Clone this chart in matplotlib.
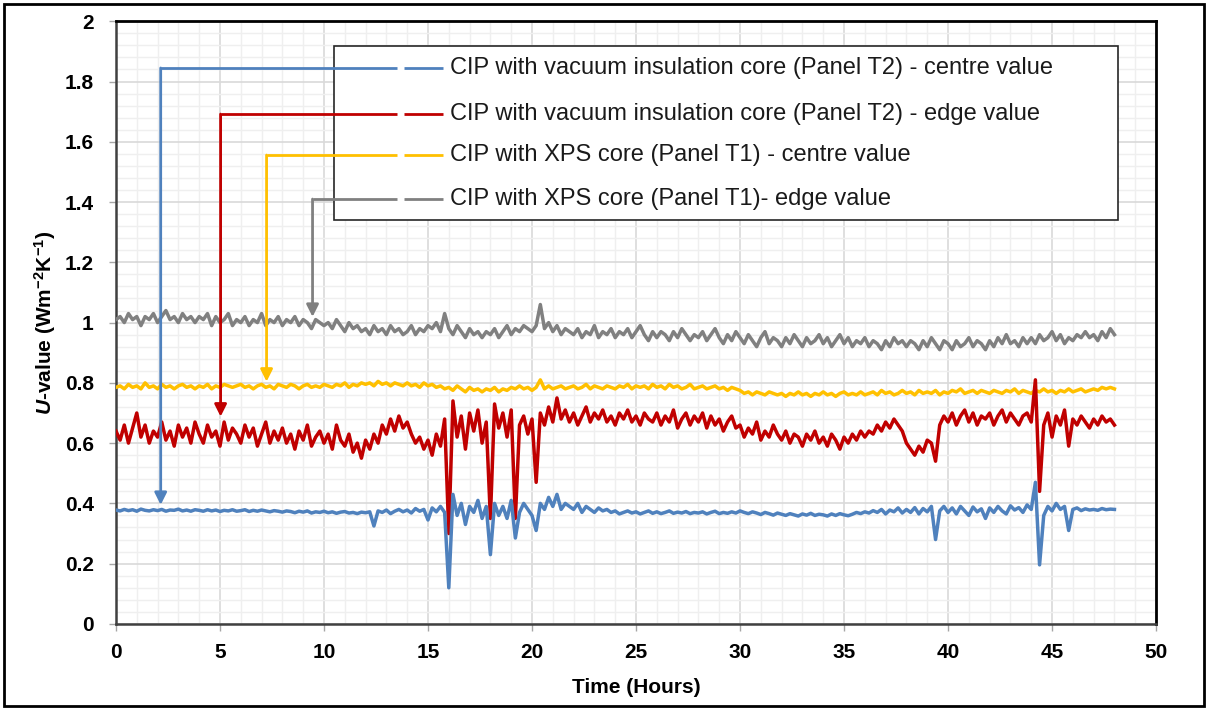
import matplotlib.pyplot as plt
import numpy as np
from matplotlib.patches import Rectangle
from matplotlib.ticker import MultipleLocator

plt.rcParams['font.family'] = ['Liberation Sans', 'DejaVu Sans']
plt.rcParams['mathtext.fontset'] = 'custom'
plt.rcParams['mathtext.rm'] = 'Liberation Sans:bold'
plt.rcParams['mathtext.it'] = 'Liberation Sans:italic:bold'
plt.rcParams['mathtext.bf'] = 'Liberation Sans:bold'

# time axis, one reading every 0.2 h
hours = np.arange(0, 48.01, 0.2)

xps_edge = [
    1.01, 1.02, 1.00, 1.03, 1.01, 1.02, 0.99, 1.02, 1.01, 1.03,
    1.00, 1.02, 1.04, 1.01, 1.02, 1.00, 1.03, 1.01, 1.02, 1.00,
    1.02, 1.01, 1.03, 0.99, 1.02, 1.00, 1.01, 1.03, 0.99, 1.01,
    1.00, 1.02, 0.99, 1.01, 1.00, 1.03, 0.99, 1.01, 1.00, 1.02,
    0.99, 1.01, 1.00, 1.02, 0.99, 1.01, 1.00, 0.98, 1.01, 1.00,
    0.99, 1.00, 0.98, 1.01, 0.99, 0.97, 1.00, 0.98, 0.99, 0.97,
    0.98, 0.96, 0.99, 0.97, 0.98, 0.96, 0.99, 0.97, 0.98, 0.96,
    0.97, 0.99, 0.96, 0.98, 0.97, 0.99, 0.98, 1.00, 0.97, 1.03,
    0.98, 0.96, 0.99, 0.97, 0.95, 0.98, 0.96, 0.97, 0.95, 0.97,
    0.96, 0.98, 0.95, 0.97, 0.99, 0.96, 0.98, 0.97, 0.99, 0.98,
    0.97, 0.99, 1.06, 0.98, 1.00, 0.97, 0.99, 0.96, 0.98, 0.97,
    0.96, 0.98, 0.95, 0.97, 0.96, 0.99, 0.95, 0.97, 0.96, 0.98,
    0.95, 0.97, 0.96, 0.98, 0.95, 0.97, 0.99, 0.96, 0.94, 0.97,
    0.95, 0.97, 0.96, 0.94, 0.97, 0.95, 0.98, 0.96, 0.94, 0.96,
    0.95, 0.97, 0.94, 0.96, 0.98, 0.95, 0.93, 0.96, 0.94, 0.97,
    0.95, 0.93, 0.96, 0.94, 0.92, 0.95, 0.97, 0.93, 0.95, 0.94,
    0.92, 0.95, 0.93, 0.96, 0.94, 0.92, 0.95, 0.93, 0.94, 0.96,
    0.93, 0.95, 0.92, 0.94, 0.96, 0.93, 0.95, 0.92, 0.94, 0.93,
    0.95, 0.92, 0.94, 0.93, 0.91, 0.94, 0.92, 0.95, 0.93, 0.94,
    0.92, 0.94, 0.93, 0.91, 0.94, 0.92, 0.95, 0.93, 0.91, 0.94,
    0.93, 0.91, 0.94, 0.92, 0.93, 0.95, 0.92, 0.94, 0.93, 0.91,
    0.94, 0.92, 0.95, 0.93, 0.96, 0.93, 0.94, 0.92, 0.95, 0.93,
    0.95, 0.93, 0.96, 0.94, 0.95, 0.97, 0.94, 0.96, 0.93, 0.95,
    0.94, 0.96, 0.95, 0.97, 0.95, 0.96, 0.94, 0.97, 0.95, 0.98,
    0.96,
]

xps_centre = [
    0.785, 0.79, 0.78, 0.795, 0.785, 0.79, 0.78, 0.80, 0.785, 0.79,
    0.78, 0.795, 0.785, 0.79, 0.78, 0.79, 0.795, 0.785, 0.79, 0.78,
    0.79, 0.785, 0.795, 0.78, 0.79, 0.785, 0.795, 0.79, 0.785, 0.79,
    0.795, 0.785, 0.79, 0.78, 0.79, 0.795, 0.785, 0.79, 0.78, 0.795,
    0.79, 0.785, 0.795, 0.79, 0.78, 0.79, 0.795, 0.785, 0.79, 0.785,
    0.795, 0.79, 0.785, 0.795, 0.79, 0.80, 0.785, 0.795, 0.79, 0.80,
    0.795, 0.80, 0.79, 0.805, 0.795, 0.80, 0.79, 0.80, 0.795, 0.79,
    0.80, 0.79, 0.795, 0.785, 0.80, 0.79, 0.795, 0.785, 0.79, 0.78,
    0.785, 0.775, 0.79, 0.78, 0.77, 0.785, 0.775, 0.78, 0.77, 0.78,
    0.775, 0.785, 0.77, 0.78, 0.775, 0.785, 0.78, 0.79, 0.78, 0.785,
    0.775, 0.785, 0.81, 0.78, 0.79, 0.78, 0.785, 0.79, 0.78, 0.785,
    0.79, 0.78, 0.785, 0.795, 0.78, 0.79, 0.785, 0.78, 0.79, 0.785,
    0.78, 0.79, 0.785, 0.795, 0.78, 0.79, 0.785, 0.79, 0.78, 0.795,
    0.785, 0.79, 0.78, 0.795, 0.785, 0.79, 0.78, 0.785, 0.795, 0.78,
    0.785, 0.79, 0.78, 0.785, 0.79, 0.78, 0.785, 0.775, 0.785, 0.78,
    0.775, 0.765, 0.77, 0.76, 0.77, 0.765, 0.76, 0.77, 0.765, 0.76,
    0.765, 0.755, 0.765, 0.76, 0.77, 0.76, 0.765, 0.755, 0.765, 0.76,
    0.77, 0.76, 0.765, 0.755, 0.765, 0.77, 0.76, 0.765, 0.76, 0.77,
    0.76, 0.765, 0.77, 0.76, 0.775, 0.765, 0.77, 0.76, 0.765, 0.775,
    0.765, 0.77, 0.76, 0.775, 0.765, 0.77, 0.765, 0.775, 0.76, 0.77,
    0.765, 0.775, 0.77, 0.78, 0.765, 0.77, 0.775, 0.765, 0.775, 0.77,
    0.765, 0.775, 0.77, 0.765, 0.775, 0.77, 0.78, 0.765, 0.775, 0.77,
    0.765, 0.775, 0.77, 0.78, 0.77, 0.775, 0.765, 0.775, 0.77, 0.78,
    0.77, 0.775, 0.78, 0.77, 0.775, 0.78, 0.775, 0.785, 0.78, 0.785,
    0.78,
]

vip_edge = [
    0.64, 0.61, 0.66, 0.60, 0.65, 0.70, 0.62, 0.66, 0.60, 0.64,
    0.62, 0.67, 0.61, 0.64, 0.59, 0.66, 0.62, 0.65, 0.60, 0.67,
    0.63, 0.60, 0.66, 0.62, 0.64, 0.59, 0.67, 0.61, 0.65, 0.63,
    0.60, 0.66, 0.62, 0.65, 0.59, 0.63, 0.67, 0.60, 0.64, 0.61,
    0.65, 0.60, 0.63, 0.58, 0.64, 0.61, 0.66, 0.59, 0.62, 0.64,
    0.60, 0.63, 0.58, 0.66, 0.61, 0.59, 0.63, 0.57, 0.60, 0.55,
    0.61, 0.58, 0.63, 0.60, 0.66, 0.63, 0.68, 0.64, 0.69, 0.65,
    0.67, 0.63, 0.60, 0.62, 0.58, 0.61, 0.56, 0.63, 0.59, 0.68,
    0.30, 0.74, 0.62, 0.69, 0.58, 0.70, 0.64, 0.71, 0.60, 0.67,
    0.35, 0.73, 0.65, 0.70, 0.62, 0.71, 0.35, 0.66, 0.69, 0.63,
    0.68, 0.47, 0.70, 0.66, 0.72, 0.67, 0.75, 0.68, 0.71, 0.67,
    0.70, 0.66, 0.69, 0.72, 0.67, 0.70, 0.68, 0.71, 0.67, 0.69,
    0.66, 0.70, 0.68, 0.71, 0.67, 0.69, 0.66, 0.70, 0.68, 0.67,
    0.70, 0.66, 0.69, 0.67, 0.71, 0.65, 0.68, 0.70, 0.66, 0.69,
    0.67, 0.70, 0.65, 0.69, 0.66, 0.68, 0.64, 0.67, 0.69, 0.65,
    0.66, 0.62, 0.65, 0.63, 0.67, 0.61, 0.64, 0.62, 0.66, 0.63,
    0.61, 0.64, 0.60, 0.63, 0.62, 0.59, 0.63, 0.61, 0.64, 0.60,
    0.62, 0.59, 0.63, 0.61, 0.58, 0.62, 0.60, 0.63, 0.61, 0.64,
    0.62, 0.64, 0.63, 0.66, 0.64, 0.67, 0.65, 0.68, 0.66, 0.64,
    0.60, 0.58, 0.56, 0.59, 0.57, 0.61, 0.60, 0.54, 0.66, 0.69,
    0.67, 0.70, 0.66, 0.69, 0.71, 0.67, 0.70, 0.66, 0.69, 0.68,
    0.70, 0.66, 0.69, 0.71, 0.67, 0.70, 0.68, 0.66, 0.69, 0.70,
    0.67, 0.81, 0.44, 0.66, 0.70, 0.62, 0.69, 0.66, 0.71, 0.59,
    0.68, 0.66, 0.69, 0.67, 0.65, 0.68, 0.66, 0.69, 0.67, 0.68,
    0.66,
]

vip_centre = [
    0.378, 0.375, 0.380, 0.376, 0.379, 0.374, 0.381, 0.377, 0.375, 0.379,
    0.376, 0.380, 0.374, 0.378, 0.377, 0.381, 0.375, 0.378, 0.374, 0.379,
    0.377, 0.374, 0.379, 0.375, 0.378, 0.373, 0.377, 0.375, 0.379, 0.374,
    0.376, 0.379, 0.373, 0.377, 0.374, 0.378, 0.375, 0.372, 0.376, 0.374,
    0.371, 0.375, 0.373, 0.369, 0.374, 0.371, 0.375, 0.368, 0.372, 0.370,
    0.374, 0.369, 0.372, 0.367, 0.371, 0.373, 0.368, 0.370, 0.366, 0.371,
    0.369, 0.372, 0.325, 0.375, 0.370, 0.378, 0.366, 0.374, 0.380, 0.372,
    0.378, 0.368, 0.383, 0.374, 0.380, 0.345, 0.385, 0.372, 0.390, 0.370,
    0.120, 0.430, 0.360, 0.400, 0.330, 0.390, 0.370, 0.410, 0.350, 0.390,
    0.230, 0.400, 0.360, 0.390, 0.350, 0.410, 0.285, 0.370, 0.400, 0.380,
    0.360, 0.310, 0.400, 0.380, 0.420, 0.390, 0.430, 0.380, 0.400, 0.390,
    0.380, 0.400, 0.370, 0.390, 0.380, 0.370, 0.385, 0.375, 0.380, 0.370,
    0.375, 0.365, 0.370, 0.375, 0.368, 0.372, 0.365, 0.370, 0.375, 0.367,
    0.372, 0.366, 0.370, 0.375, 0.367, 0.371, 0.368, 0.373, 0.366, 0.370,
    0.368, 0.372, 0.365, 0.370, 0.374, 0.366, 0.370, 0.367, 0.372, 0.368,
    0.375, 0.370, 0.366, 0.372, 0.368, 0.363, 0.370, 0.366, 0.361, 0.368,
    0.364, 0.360, 0.366, 0.362, 0.358, 0.365, 0.361, 0.367, 0.360, 0.364,
    0.362, 0.358, 0.365, 0.360, 0.366, 0.362, 0.359, 0.364, 0.370, 0.366,
    0.372, 0.368, 0.376, 0.370, 0.380, 0.365, 0.378, 0.372, 0.385, 0.368,
    0.380, 0.370, 0.386, 0.365, 0.383, 0.372, 0.390, 0.280, 0.375, 0.390,
    0.370, 0.385, 0.365, 0.390, 0.375, 0.360, 0.388, 0.372, 0.382, 0.350,
    0.385, 0.370, 0.390, 0.375, 0.365, 0.392, 0.378, 0.386, 0.370, 0.395,
    0.380, 0.470, 0.196, 0.360, 0.390, 0.375, 0.400, 0.380, 0.390, 0.310,
    0.380, 0.385, 0.376, 0.382, 0.378, 0.380, 0.377, 0.383, 0.379, 0.381,
    0.380,
]

labels = [
    'CIP with vacuum insulation core (Panel T2) - centre value',
    'CIP with vacuum insulation core (Panel T2) - edge value',
    'CIP with XPS core (Panel T1) - centre value',
    'CIP with XPS core (Panel T1)- edge value',
]
colors = ['#4f81bd', '#c00000', '#ffc000', '#808080']
series = [vip_centre, vip_edge, xps_centre, xps_edge]

# callout arrows: corner x, legend row y, arrow tip y
arrow_x = [2.15, 5.03, 7.24, 9.45]
arrow_row_y = [1.845, 1.692, 1.556, 1.41]
arrow_tip_y = [0.395, 0.688, 0.804, 1.019]

fig = plt.figure(figsize=(12.08, 7.09), dpi=100)
ax = fig.add_axes([0.096, 0.12, 0.861, 0.85])

# plot the series (grey first so the others sit on top)
for i in [3, 2, 1, 0]:
    ax.plot(hours, series[i], color=colors[i], lw=2.5, zorder=3)

ax.set_xlim(0, 50)
ax.set_ylim(0, 2)
ax.xaxis.set_major_locator(MultipleLocator(5))
ax.xaxis.set_minor_locator(MultipleLocator(1))
ax.yaxis.set_minor_locator(MultipleLocator(0.04))
ax.set_yticks(np.arange(0, 2.01, 0.2))
ax.set_yticklabels(['0', '0.2', '0.4', '0.6', '0.8', '1', '1.2', '1.4', '1.6', '1.8', '2'])
ax.grid(which='major', color='#d9d9d9', lw=1.2, zorder=0)
ax.grid(which='minor', color='#efefef', lw=1.0, zorder=0)
ax.set_axisbelow(True)
ax.tick_params(axis='y', which='major', length=5, width=1, color='#a6a6a6',
               labelsize=15, pad=11)
ax.tick_params(axis='x', which='major', length=5, width=1, color='#a6a6a6',
               labelsize=15, pad=9)
ax.tick_params(which='minor', length=0)
for lab in ax.get_xticklabels() + ax.get_yticklabels():
    lab.set_fontweight('bold')

for side in ['top', 'right']:
    ax.spines[side].set_color('black')
    ax.spines[side].set_linewidth(2)
for side in ['left', 'bottom']:
    ax.spines[side].set_color('#404040')
    ax.spines[side].set_linewidth(1.8)

ax.set_xlabel('Time (Hours)', fontsize=15, fontweight='bold', labelpad=11)
ax.set_ylabel(r'$\it{U}$-value (Wm$^{-2}$K$^{-1}$)', fontsize=15,
              fontweight='bold', labelpad=5)

# legend box drawn by hand so the callout lines can run into it
ax.add_patch(Rectangle((10.48, 1.34), 48.17 - 10.48, 1.917 - 1.34,
                       facecolor='white', edgecolor='#262626', lw=1.2, zorder=4))

for i in range(4):
    x0 = arrow_x[i]
    y0 = arrow_row_y[i]
    ax.plot([x0, 13.5], [y0, y0], color=colors[i], lw=2.0, zorder=5,
            solid_capstyle='butt')
    ax.plot([13.85, 15.7], [y0, y0], color=colors[i], lw=2.0, zorder=5,
            solid_capstyle='butt')
    ax.annotate('', xy=(x0, arrow_tip_y[i]), xytext=(x0, y0),
                arrowprops=dict(arrowstyle='-|>', color=colors[i], lw=2.0,
                                mutation_scale=18, shrinkA=0, shrinkB=0),
                zorder=5)
    ax.text(16.05, y0, labels[i], fontsize=17, color='#1a1a1a',
            va='center', ha='left', zorder=6)

fig.add_artist(Rectangle((0.003, 0.004), 0.994, 0.991, transform=fig.transFigure,
                         fill=False, edgecolor='black', lw=2))

fig.savefig('out.png', dpi=100)
